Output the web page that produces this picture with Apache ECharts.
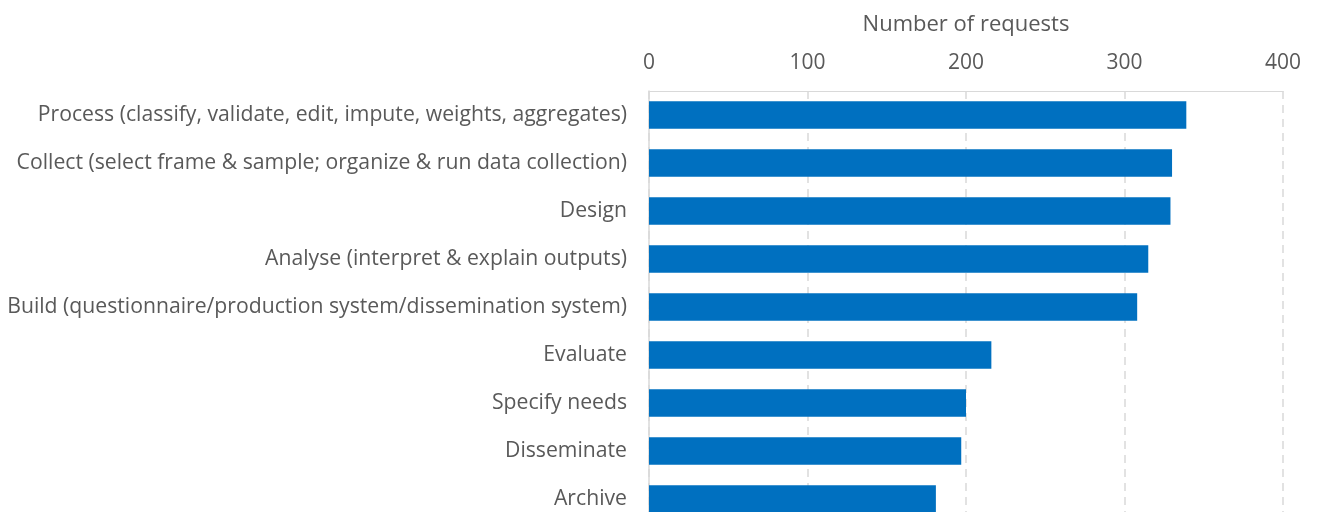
<!DOCTYPE html>
<html>
<head>
<meta charset="utf-8">
<script src="https://cdn.jsdelivr.net/npm/echarts@6/dist/echarts.min.js"></script>
<style>
  html, body { margin: 0; padding: 0; background: #fff; overflow: hidden; }
  #chart { width: 1319px; height: 540px; }
</style>
</head>
<body>
<div id="chart"></div>
<script>
const categories = [
  'Process (classify, validate, edit, impute, weights, aggregates)',
  'Collect (select frame & sample; organize & run data collection)',
  'Design',
  'Analyse (interpret & explain outputs)',
  'Build (questionnaire/production system/dissemination system)',
  'Evaluate',
  'Specify needs',
  'Disseminate',
  'Archive'
]
const requests = [339, 330, 329, 315, 308, 216, 200, 197, 181]
const xTicks = [0, 100, 200, 300, 400]

const chart = echarts.init(document.getElementById('chart'))

// 图表底部超出画面，与原图一样被裁掉
chart.setOption({
  animation: false,
  grid: {
    left: 649,
    right: 36,
    top: 91,
    height: 432
  },
  xAxis: {
    type: 'value',
    position: 'top',
    min: xTicks[0],
    max: xTicks[xTicks.length - 1],
    interval: 100,
    name: 'Number of requests',
    nameLocation: 'middle',
    nameGap: 55,
    nameTextStyle: {
      color: '#595959',
      fontSize: 22,
      fontFamily: 'Open Sans, sans-serif'
    },
    axisLine: { show: true, lineStyle: { color: '#d9d9d9', width: 1 } },
    axisTick: { show: false },
    axisLabel: {
      color: '#595959',
      fontSize: 21,
      margin: 17,
      fontFamily: 'Open Sans, sans-serif'
    },
    splitLine: {
      lineStyle: { color: '#d9d9d9', type: [8, 6], width: 1.5 }
    }
  },
  yAxis: {
    type: 'category',
    inverse: true,
    data: categories,
    axisLine: { show: true, lineStyle: { color: '#d9d9d9', width: 1.5 } },
    axisTick: { show: false },
    axisLabel: {
      color: '#595959',
      fontSize: 21.2,
      margin: 22,
      fontFamily: 'Open Sans, sans-serif'
    }
  },
  series: [{
    type: 'bar',
    data: requests,
    barWidth: '57%',
    itemStyle: { color: '#0070C0' }
  }]
})
</script>
</body>
</html>
